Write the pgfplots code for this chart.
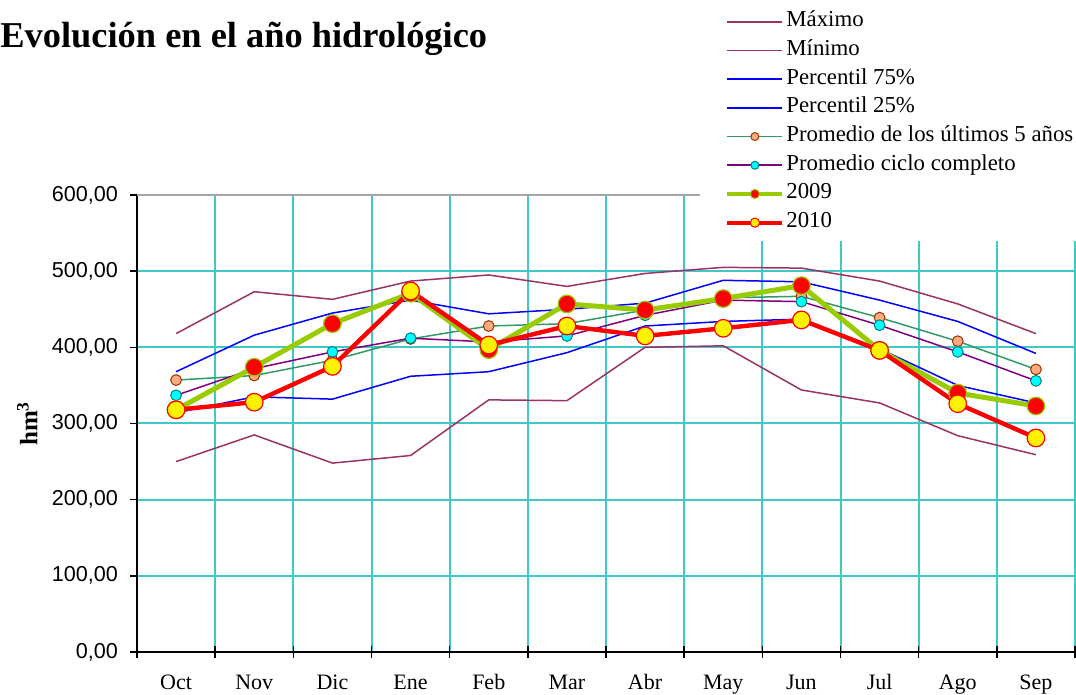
\documentclass[border=0pt]{standalone}
\usepackage{pgfplots}
\pgfplotsset{compat=1.18}
\usepackage{fontspec}
\setmainfont{Liberation Serif}
\newfontfamily\sansfont{Liberation Sans}

\definecolor{plum}{RGB}{153,51,102}
\definecolor{pblue}{RGB}{0,0,255}
\definecolor{seagreen}{RGB}{51,153,102}
\definecolor{salmon}{RGB}{255,170,128}
\definecolor{brownedge}{RGB}{153,51,0}
\definecolor{ciclo}{RGB}{128,0,128}
\definecolor{cyanfill}{RGB}{0,255,255}
\definecolor{tealedge}{RGB}{0,128,128}
\definecolor{yg}{RGB}{153,204,0}
\definecolor{gridc}{RGB}{64,200,200}

\begin{document}
\begin{tikzpicture}
\useasboundingbox (0,0) rectangle (538pt,347.5pt);
\node[anchor=west, font=\fontsize{18.2}{20}\selectfont\bfseries, inner sep=0pt] at (0pt,328pt) {Evolución en el año hidrológico};
\begin{axis}[
  at={(68.5pt,21.5pt)}, anchor=south west,
  scale only axis, width=469pt, height=228.5pt,
  xmin=-0.5, xmax=11.5, ymin=0, ymax=600,
  axis x line*=bottom, axis y line*=left,
  axis line style={-, line width=1pt, black},
  xtick={0,...,11},
  xticklabels={Oct,Nov,Dic,Ene,Feb,Mar,Abr,May,Jun,Jul,Ago,Sep},
  major x tick style={draw=none},
  minor xtick={-0.5,0.5,...,11.5},
  xminorgrids=true,
  xtick align=center,
  ytick align=outside,
  major tick length=3.5pt,
  minor tick length=6pt,
  tick style={black, line width=0.8pt},
  ytick={0,100,...,500},
  ymajorgrids=true,
  extra y ticks={600},
  extra y tick style={grid=major, major grid style={draw=gray!70, line width=1pt}},
  grid style={draw=gridc, line width=1pt},
  minor grid style={draw=gridc, line width=1pt},
  major grid style={draw=gridc, line width=1pt},
  xticklabel style={font=\fontsize{11}{13}\selectfont, text height=7.6pt, text depth=2.4pt, yshift=-6pt},
  yticklabel style={font=\sansfont\fontsize{10.8}{12}\selectfont, xshift=-2.5pt, /pgf/number format/.cd, fixed, fixed zerofill, precision=2, use comma, 1000 sep={}, assume math mode=true},
  ylabel={\textbf{hm\textsuperscript{3}}},
  ylabel style={at={(axis description cs:-0.117,0.5)}, anchor=center, font=\fontsize{12.5}{14}\selectfont},
  legend image code/.code={\draw[mark repeat=2,mark phase=2] plot coordinates {(0pt,0pt) (13.75pt,0pt) (27.5pt,0pt)};},
  legend cell align=left,
  legend style={at={(axis description cs:0.6002,1.4201)}, anchor=north west, draw=none, fill=white,
    inner xsep=12.5pt, inner ysep=2pt, row sep=0pt,
    font=\fontsize{11.4}{14.35}\selectfont,
    nodes={inner ysep=0pt, inner xsep=1pt, text height=9.6pt, text depth=4.75pt}},
]
\addlegendimage{plum, line width=0.8pt}
\addlegendimage{plum, line width=0.8pt}
\addlegendimage{pblue, line width=0.8pt}
\addlegendimage{pblue, line width=0.8pt}
\addlegendimage{seagreen, line width=0.8pt, mark=*, mark size=2pt, mark options={fill=salmon, draw=brownedge, line width=0.5pt}}
\addlegendimage{ciclo, line width=0.8pt, mark=*, mark size=2pt, mark options={fill=cyanfill, draw=tealedge, line width=0.5pt}}
\addlegendimage{yg, line width=2pt, mark=*, mark size=2.3pt, mark options={fill=red, draw=yg, line width=0.5pt}}
\addlegendimage{red, line width=2pt, mark=*, mark size=2.3pt, mark options={fill=yellow, draw=red, line width=0.5pt}}

% Maximo
\addplot[forget plot, plum, line width=0.75pt] coordinates {
(0,418) (1,473) (2,463) (3,487) (4,495) (5,480) (6,497) (7,505) (8,504) (9,487) (10,457) (11,418)};
% Minimo
\addplot[forget plot, plum, line width=0.75pt] coordinates {
(0,250) (1,285) (2,248) (3,258) (4,331) (5,330) (6,400) (7,402) (8,344) (9,327) (10,284) (11,259)};
% Percentil 75
\addplot[forget plot, pblue, line width=0.75pt] coordinates {
(0,368) (1,416) (2,445) (3,462) (4,444) (5,450) (6,458) (7,488) (8,486) (9,462) (10,434) (11,392)};
% Percentil 25
\addplot[forget plot, pblue, line width=0.75pt] coordinates {
(0,314) (1,335) (2,332) (3,362) (4,368) (5,393) (6,428) (7,434) (8,437) (9,398) (10,350) (11,327)};
% Promedio ultimos 5 anos
\addplot[forget plot, seagreen, line width=0.75pt, mark=*, mark size=2.7pt, mark options={fill=salmon, draw=brownedge, line width=0.5pt}] coordinates {
(0,357) (1,363) (2,383) (3,411) (4,428) (5,431) (6,449) (7,465) (8,467) (9,439) (10,408) (11,371)};
% Promedio ciclo completo
\addplot[forget plot, ciclo, line width=0.75pt, mark=*, mark size=2.7pt, mark options={fill=cyanfill, draw=tealedge, line width=0.5pt}] coordinates {
(0,337) (1,372) (2,394) (3,412) (4,407) (5,415) (6,442) (7,462) (8,460) (9,429) (10,394) (11,356)};
% 2009
\addplot[forget plot, yg, line width=2.5pt, mark=*, mark size=4.4pt, mark options={fill=red, draw=yg, line width=0.6pt}] coordinates {
(0,318) (1,374) (2,431) (3,471) (4,397) (5,457) (6,449) (7,464) (8,481) (9,396) (10,340) (11,323)};
% 2010
\addplot[forget plot, red, line width=2.2pt, mark=*, mark size=4.4pt, mark options={fill=yellow, draw=red, line width=0.6pt}] coordinates {
(0,318) (1,328) (2,375) (3,474) (4,403) (5,428) (6,415) (7,425) (8,436) (9,396) (10,326) (11,281)};

\legend{Máximo, Mínimo, Percentil 75\%, Percentil 25\%, Promedio de los últimos 5 años, Promedio ciclo completo, 2009, 2010}
\end{axis}
\end{tikzpicture}
\end{document}
